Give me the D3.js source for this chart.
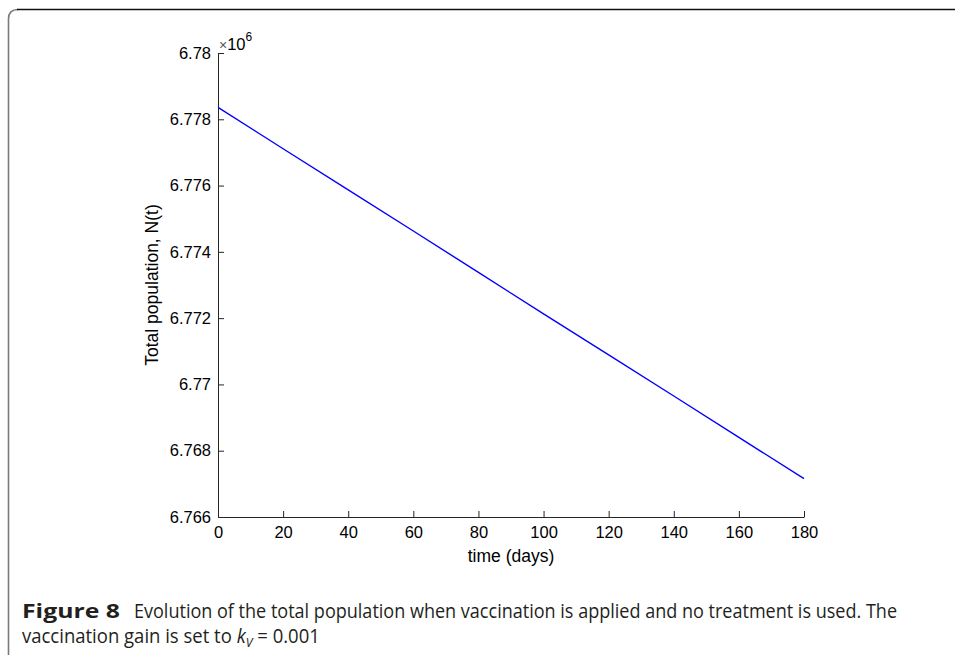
<!DOCTYPE html>
<html><head><meta charset="utf-8">
<script src="https://cdn.jsdelivr.net/npm/d3@7"></script>
<style>
body{margin:0;background:#fff;}
svg{display:block;}
</style></head>
<body>
<svg id="chart" width="955" height="655"></svg>
<script>
// Data (time in days, total population in units of 10^6)
const days = [0, 20, 40, 60, 80, 100, 120, 140, 160, 180];
const population = [6.77836, 6.77711, 6.77587, 6.77463, 6.77338, 6.77213, 6.77089, 6.76965, 6.76840, 6.76716];
const xTicks = [0, 20, 40, 60, 80, 100, 120, 140, 160, 180];
const yTicks = [6.766, 6.768, 6.77, 6.772, 6.774, 6.776, 6.778, 6.78];
const yTickLabels = ["6.766", "6.768", "6.77", "6.772", "6.774", "6.776", "6.778", "6.78"];
const xLabel = "time (days)";
const yLabel = "Total population, N(t)";
const captionBold = "Figure 8";
const captionLine1 = "Evolution of the total population when vaccination is applied and no treatment is used. The";

const svg = d3.select("#chart");
const L = 218, R = 804, T = 53, B = 517;
const x = d3.scaleLinear().domain([0, 180]).range([L, R]);
const y = d3.scaleLinear().domain([6.766, 6.78]).range([B, T]);
const axisColor = "#262626";
const font = "'Liberation Sans', Arial, Helvetica, sans-serif";

// frame
svg.append("path")
  .attr("d", `M8.5,655 L8.5,19 Q8.5,9.5 18,9.5`)
  .attr("fill", "none").attr("stroke", "#7a7a7a").attr("stroke-width", 1.6);
svg.append("path")
  .attr("d", `M17,9.5 L955,9.5`)
  .attr("fill", "none").attr("stroke", "#111").attr("stroke-width", 1.6);

// axes
const xAxis = d3.axisBottom(x).tickValues(xTicks).tickSizeInner(-6).tickSizeOuter(0).tickPadding(9);
const gx = svg.append("g").attr("transform", `translate(0,${B})`).call(xAxis);
const yAxis = d3.axisLeft(y).tickValues(yTicks).tickSizeInner(-6).tickSizeOuter(0).tickPadding(7)
  .tickFormat((d, i) => yTickLabels[i]);
const gy = svg.append("g").attr("transform", `translate(${L},0)`).call(yAxis);
[gx, gy].forEach(g => {
  g.select(".domain").attr("stroke", axisColor).attr("stroke-width", 1);
  g.selectAll(".tick line").attr("stroke", axisColor).attr("stroke-width", 1);
  g.selectAll(".tick text").attr("fill", "#000").style("font-family", font).style("font-size", "16.5px");
});
gx.selectAll(".tick text").attr("dy", "0.71em");

// exponent label
const ex = svg.append("text").attr("x", 219).attr("y", 50).style("font-family", font).attr("fill", "#000");
ex.append("tspan").text("\u00d7").attr("fill", "#555").style("font-size", "14px");
ex.append("tspan").text("10").style("font-size", "16.5px");
ex.append("tspan").text("6").attr("dy", -9).style("font-size", "12px");

// line
svg.append("path")
  .datum(days.map((d, i) => [d, population[i]]))
  .attr("fill", "none").attr("stroke", "#0000ff").attr("stroke-width", 1.4)
  .attr("d", d3.line().x(d => x(d[0])).y(d => y(d[1])));

// axis labels
svg.append("text").attr("x", (L + R) / 2).attr("y", 562).attr("text-anchor", "middle")
  .style("font-family", font).style("font-size", "17.5px").attr("fill", "#000").text(xLabel);
svg.append("text").attr("transform", `translate(158,${(T + B) / 2}) rotate(-90)`).attr("text-anchor", "middle")
  .style("font-family", font).style("font-size", "17.5px").attr("fill", "#000").text(yLabel);

// caption (fitted horizontally to the reference extents)
const cfont = "'Open Sans', 'Noto Sans', sans-serif";
function fit(sel, x0, x1) {
  const w = sel.node().getComputedTextLength();
  const s = (x1 - x0) / w;
  sel.attr("transform", `translate(${x0},0) scale(${s},1) translate(${-x0},0)`);
}
const cb = svg.append("text").attr("x", 22).attr("y", 618).style("font-family", cfont)
  .style("font-size", "20px").style("font-weight", "bold").attr("fill", "#231f20").text(captionBold);
fit(cb, 22, 120);
const c1 = svg.append("text").attr("x", 134).attr("y", 618).style("font-family", cfont)
  .style("font-size", "19.5px").attr("fill", "#231f20").text(captionLine1);
fit(c1, 134, 898);
const c2 = svg.append("text").attr("x", 22).attr("y", 643).style("font-family", cfont).style("font-size", "19.5px").attr("fill", "#231f20");
c2.append("tspan").text("vaccination gain is set to ");
c2.append("tspan").text("k").style("font-style", "italic");
c2.append("tspan").text("V").style("font-style", "italic").style("font-size", "13px").attr("dy", 4);
c2.append("tspan").text("\u00a0=\u00a00.001").attr("dy", -4);
fit(c2, 22, 320);
</script>
</body></html>
